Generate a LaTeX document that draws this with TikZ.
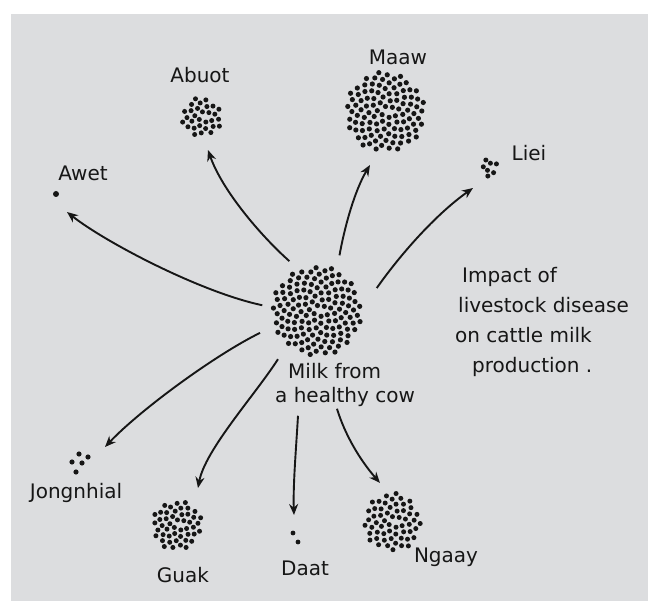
\documentclass[tikz,border=0pt]{standalone}
\usepackage{fontspec}
\setmainfont{DejaVu Sans}
\usetikzlibrary{arrows.meta}
\definecolor{paper}{RGB}{220,221,223}
\definecolor{ink}{RGB}{22,22,22}
\newcommand\sunflower[4]{\foreach \i in {1,...,#2}{\fill[ink,shift={#1}] ({360*(0.381966*\i-floor(0.381966*\i))}:{#3*sqrt(\i/#2)}) circle (#4);}}
\begin{document}
\begin{tikzpicture}[x=1pt,y=-1pt,
  arr/.style={draw=ink, line width=1.9pt, -{Stealth[length=11pt,width=9pt]}},
  lab/.style={text=ink, font=\fontsize{20}{24}\selectfont, inner sep=0pt},
  blob/.style={circle, inner sep=0pt}]
\useasboundingbox (0,0) rectangle (648,601);
\fill[white] (0,0) rectangle (648,601);
\fill[paper] (11,14) rectangle (648,601);

% clusters
\node[blob, minimum size=100] (milk) at (317,311) {};
\node[blob, minimum size=82] (maaw) at (385,112) {};
\node[blob, minimum size=44] (abuot) at (202,117) {};
\node[blob, minimum size=52] (guak) at (177,525) {};
\node[blob, minimum size=60] (ngaay) at (392,522) {};
\node[blob, minimum size=24] (liei) at (490,168) {};
\node[blob, minimum size=22] (jong) at (80,462) {};
\node[blob, minimum size=14] (daat) at (295,537) {};
\node[blob, minimum size=6] (awet) at (56,194) {};

\sunflower{(milk)}{135}{45}{2.6}
\sunflower{(maaw)}{105}{40}{2.6}
\sunflower{(abuot)}{30}{20}{2.5}
\sunflower{(guak)}{48}{25}{2.5}
\sunflower{(ngaay)}{58}{29}{2.5}
\sunflower{(liei)}{7}{9}{2.5}
\foreach \p in {(79,454),(88,457),(72,462),(82,463),(76,472)} \fill[ink] \p circle (2.6);
\foreach \p in {(293,533),(298,542)} \fill[ink] \p circle (2.4);
\fill[ink] (awet) circle (3);

% labels
\node[lab] (tAwet) at (83,173) {Awet};
\node[lab] (tAbuot) at (200,75) {Abuot};
\node[lab] (tMaaw) at (398,57) {Maaw};
\node[lab] (tLiei) at (529,153) {Liei};
\node[lab] (tJong) at (76,493) {Jongnhial};
\node[lab] (tGuak) at (183,575) {Guak};
\node[lab] (tDaat) at (305,568) {Daat};
\node[lab] (tNgaay) at (446,557) {Ngaay};
\node[lab, align=left, anchor=north west] (milkt) at (275,363) {\hspace*{13pt}Milk from\\a healthy cow};
\node[lab, font=\fontsize{20}{30}\selectfont, align=left, anchor=north west] (title) at (455,267)
  {\hspace*{7pt}Impact of\\\hspace*{3pt}livestock disease\\on cattle milk\\\hspace*{17pt}production .};

% arrow ends
\coordinate (eAwet) at (67,212);
\coordinate (eAbuot) at (208,150);
\coordinate (eMaaw) at (370,165);
\coordinate (eLiei) at (473,188);
\coordinate (eJong) at (105,447);
\coordinate (eGuak) at (198,488);
\coordinate (eDaat) at (294,515);
\coordinate (eNgaay) at (380,483);

\draw[arr] ([shift={(174:55pt)}]milk.center) .. controls (200,292) and (105,242) .. (eAwet);
\draw[arr] ([shift={(119:57pt)}]milk.center) .. controls (260,235) and (222,190) .. (eAbuot);
\draw[arr] ([shift={(68:60pt)}]milk.center) .. controls (345,225) and (355,190) .. (eMaaw);
\draw[arr] ([shift={(21:64pt)}]milk.center) .. controls (400,255) and (435,215) .. (eLiei);
\draw[arr] ([shift={(201:61pt)}]milk.center) .. controls (215,355) and (140,410) .. (eJong);
\draw[arr] ([shift={(231:62pt)}]milk.center) .. controls (255,395) and (205,450) .. (eGuak);
\draw[arr] ([shift={(23pt,-9pt)}]milkt.south west) .. controls (296,450) and (293,485) .. (eDaat);
\draw[arr] ([shift={(62pt,-2pt)}]milkt.south west) .. controls (345,435) and (360,460) .. (eNgaay);
\end{tikzpicture}
\end{document}
